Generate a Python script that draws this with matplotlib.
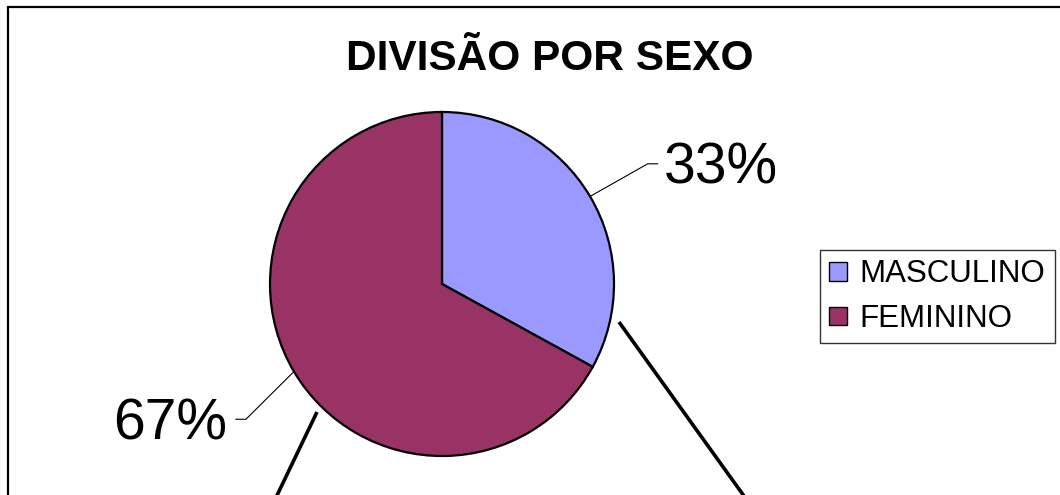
import numpy as np
import matplotlib
matplotlib.use('Agg')
import matplotlib.pyplot as plt
from matplotlib.patches import Rectangle

plt.rcParams['font.family'] = ['Liberation Sans', 'DejaVu Sans']

# dados
categorias = ['MASCULINO', 'FEMININO']
valores = [33, 67]
cores = ['#9999FF', '#993366']
titulo = 'DIVISÃO POR SEXO'

W, H = 1060, 495
fig = plt.figure(figsize=(W / 100, H / 100), dpi=100)
ax = fig.add_axes([0, 0, 1, 1])

# centro e raio da pizza (em pixels, y para cima)
cx, cy, r = 442, 211, 172
wedges, _ = ax.pie(valores, colors=cores, startangle=90, counterclock=False,
                   center=(cx, cy), radius=r,
                   wedgeprops=dict(edgecolor='black', linewidth=1.6))
ax.set_xlim(0, W)
ax.set_ylim(0, H)
ax.set_aspect('auto')
ax.axis('off')

# rótulos de porcentagem com linhas de chamada
total = sum(valores)
desvio = [-0.3, 4.0]  # ajuste do ângulo do cotovelo (graus)
for w, v, d in zip(wedges, valores, desvio):
    meio = (w.theta1 + w.theta2) / 2
    ang = np.deg2rad(meio)
    ang2 = np.deg2rad(meio + d)
    x0, y0 = cx + r * np.cos(ang), cy + r * np.sin(ang)
    x1, y1 = cx + 1.385 * r * np.cos(ang2), cy + 1.385 * r * np.sin(ang2)
    lado = 1 if np.cos(ang) > 0 else -1
    x2 = x1 + 10 * lado
    ax.plot([x0, x1, x2], [y0, y1, y1], color='black', lw=0.8)
    ax.text(x2 + (6 if lado > 0 else -9), y1 - 20, f'{round(100 * v / total)}%',
            fontsize=41, ha='left' if lado > 0 else 'right', va='baseline')

# título
ax.text(549.5, 425, titulo, fontsize=30.5, fontweight='bold', ha='center', va='baseline')

# linhas pretas grossas na parte de baixo
ax.plot([317, 270], [83, -15], color='black', lw=2.6, solid_capstyle='butt')
ax.plot([619, 754], [173, -15], color='black', lw=2.6, solid_capstyle='butt')

# borda da área do gráfico
ax.add_patch(Rectangle((8, -100), 1200, H - 7 + 100, fill=False,
                       edgecolor='black', lw=1.6, clip_on=True))

# legenda
leg = ax.legend(wedges, categorias, loc='upper left',
                bbox_to_anchor=(820 / W, 1 - 250 / H), bbox_transform=fig.transFigure,
                fontsize=22.5, frameon=True, fancybox=False, borderaxespad=0,
                handlelength=0.55, handleheight=0.55, handletextpad=0.42,
                labelspacing=0.47, borderpad=0.3)
leg.get_frame().set_edgecolor('black')
leg.get_frame().set_linewidth(1.0)
for h in leg.legend_handles:
    h.set_linewidth(1.0)

fig.savefig('out.png', dpi=100)
